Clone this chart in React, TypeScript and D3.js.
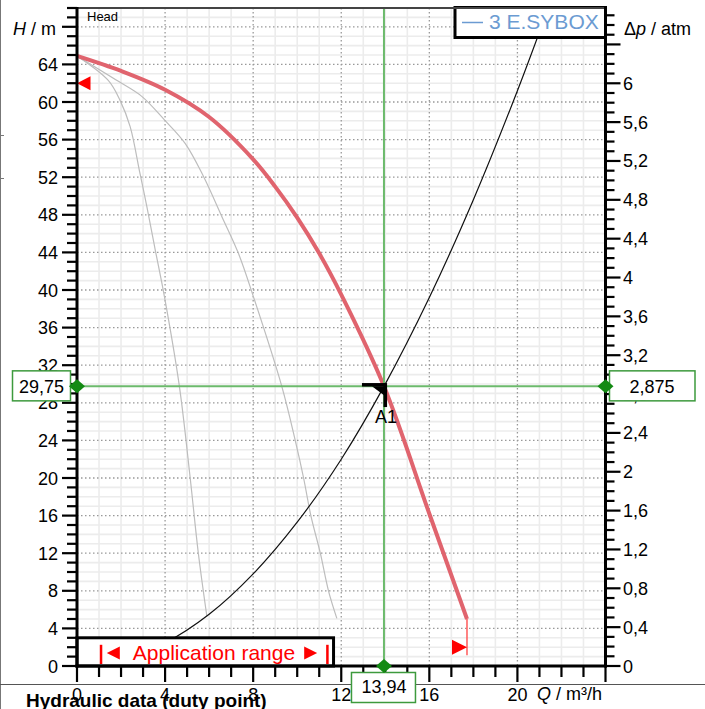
import * as d3 from "d3";

// Pump curve (red): [Q m³/h, H m]
const pumpCurve: [number, number][] = [
  [0, 64.9], [2, 63.3], [4, 61.3], [6, 58.4], [8, 53.9], [9, 51.0], [10, 47.7],
  [11, 43.9], [12, 39.5], [13.94, 29.75], [16, 16.2], [17.71, 5.0],
];

// Reduced-speed curves (grey)
const lowCurve1: [number, number][] = [
  [0, 64.9], [1.42, 62.3], [1.95, 60.2], [2.41, 57.4], [2.86, 52.4], [3.17, 48.9],
  [3.55, 44.3], [3.97, 39.3], [4.65, 29.75], [5.14, 20.0], [5.51, 12.0], [5.9, 5.25],
];
const lowCurve2: [number, number][] = [
  [0, 64.9], [1.88, 62.2], [2.94, 60.6], [3.97, 58.1], [4.91, 55.6], [5.74, 52.1],
  [6.58, 47.8], [7.33, 43.9], [8.01, 39.3], [9.3, 29.75], [9.91, 24.0], [10.29, 20.0],
  [10.62, 16.0], [11.05, 12.0], [11.42, 8.0], [11.8, 5.07],
];

// System curve (black)
const systemCurve: [number, number][] = [
  [0, 0], [2, 0.6], [4, 2.45], [6, 5.5], [8, 9.8], [10, 15.3], [12, 22.0],
  [13.94, 29.75], [16, 39.2], [18, 49.6], [20, 61.2], [21.4, 70],
];

// Duty point
const dutyQ = 13.94;
const dutyH = 29.75;
const dutyLabels = { q: "13,94", h: "29,75", p: "2,875" };

// Limits / markers
const curveEnd = { q: 17.71, h: 5.0, hLow: 1.15 };
const maxHeadMark = 62;
const endMark = { q: 17.71, h: 2 };
const appRange = { from: 1.08, to: 11.36, boxEnd: 11.65, boxTop: 3 };

const xLabels = [0, 4, 8, 12, 16, 20];
const hLabels = [0, 4, 8, 12, 16, 20, 24, 28, 32, 36, 40, 44, 48, 52, 56, 60, 64];
const pLabels = [0, 0.4, 0.8, 1.2, 1.6, 2, 2.4, 2.8, 3.2, 3.6, 4, 4.4, 4.8, 5.2, 5.6, 6];

const FONT = "'Liberation Sans', Arial, sans-serif";
const M_PER_ATM = 10.332;

const App = () => {
  const x = d3.scaleLinear().domain([0, 24]).range([77, 605.5]);
  const y = d3.scaleLinear().domain([0, 70]).range([666, 8]);
  const yP = d3.scaleLinear().domain([0, 70 / M_PER_ATM]).range([666, 8]);

  const line = d3.line<[number, number]>()
    .x(d => x(d[0]))
    .y(d => y(d[1]))
    .curve(d3.curveCatmullRom.alpha(0.5));

  const left = x(0), right = x(24), top = y(70), bottom = y(0);
  const fmt = (v: number) => String(+v.toFixed(1)).replace(".", ",");

  const qMinor = d3.range(0, 25);
  const hMinor = d3.range(0, 71);
  const pMinor = d3.range(0, 68).map(i => i / 10);

  const dx = x(dutyQ), dy = y(dutyH);
  const diamond = (cx: number, cy: number) =>
    `M${cx},${cy - 7}L${cx + 8},${cy}L${cx},${cy + 7}L${cx - 8},${cy}Z`;

  const aY = y(appRange.boxTop);
  const aMid = (aY + bottom) / 2 + 1;

  return (
    <svg width={705} height={709} style={{ position: "absolute", left: 0, top: 0, background: "#fff" }}
      fontFamily={FONT}>
      <defs>
        <clipPath id="plot">
          <rect x={left} y={top} width={right - left} height={bottom - top} />
        </clipPath>
      </defs>
      <rect width={705} height={709} fill="#fff" />

      {/* page decorations */}
      <line x1={0.5} x2={0.5} y1={0} y2={709} stroke="#777" />
      <line x1={0} x2={4} y1={135.5} y2={135.5} stroke="#777" />
      <line x1={0} x2={4} y1={178.5} y2={178.5} stroke="#777" />
      <line x1={0} x2={705} y1={684.5} y2={684.5} stroke="#555" />

      {/* minor grid */}
      {qMinor.filter(v => v % 4 !== 0).map(v => (
        <line key={"qm" + v} x1={x(v)} x2={x(v)} y1={top} y2={bottom} stroke="#ececec" strokeWidth={1.6} />
      ))}
      {hMinor.filter(v => v % 4 !== 0).map(v => (
        <line key={"hm" + v} x1={left} x2={right} y1={y(v)} y2={y(v)} stroke="#ececec" strokeWidth={1.6} />
      ))}
      {/* major dotted grid */}
      {qMinor.filter(v => v % 4 === 0 && v > 0 && v < 24).map(v => (
        <line key={"qM" + v} x1={x(v)} x2={x(v)} y1={top} y2={bottom} stroke="#999" strokeWidth={1.3} strokeDasharray="1.5,2.5" />
      ))}
      {hMinor.filter(v => v % 4 === 0 && v > 0).map(v => (
        <line key={"hM" + v} x1={left} x2={right} y1={y(v)} y2={y(v)} stroke="#999" strokeWidth={1.3} strokeDasharray="1.5,2.5" />
      ))}

      {/* curves */}
      <g clipPath="url(#plot)" fill="none">
        <path d={line(lowCurve1)!} stroke="#bdbdbd" strokeWidth={1.2} />
        <path d={line(lowCurve2)!} stroke="#bdbdbd" strokeWidth={1.2} />
        <path d={line(systemCurve)!} stroke="#111" strokeWidth={1.2} />
        <path d={line(pumpCurve)!} stroke="#e0646e" strokeWidth={4} />
        <line x1={x(curveEnd.q)} x2={x(curveEnd.q)} y1={y(curveEnd.h)} y2={y(curveEnd.hLow)} stroke="#ff5a5a" strokeWidth={1.5} />
      </g>

      {/* duty point cross */}
      <line x1={dx} x2={dx} y1={top} y2={bottom} stroke="#6cba6c" strokeWidth={2} />
      <line x1={left} x2={right} y1={dy} y2={dy} stroke="#6cba6c" strokeWidth={2} />

      {/* A1 marker */}
      <g fill="#000">
        <rect x={dx - 22} y={dy - 3.3} width={24} height={3.5} />
        <rect x={dx - 0.5} y={dy - 3.3} width={3.6} height={24} />
        <path d={`M${dx - 12},${dy}L${dx},${dy}L${dx},${dy + 9}Z`} />
      </g>
      <text x={dx + 2} y={dy + 37} fontSize={18} textAnchor="middle">A1</text>

      {/* markers */}
      <path d={`M${left},${y(maxHeadMark)}L${left + 13.5},${y(maxHeadMark) - 7}L${left + 13.5},${y(maxHeadMark) + 7}Z`} fill="#ff0000" />
      <path d={`M${x(endMark.q)},${y(endMark.h)}L${x(endMark.q) - 15},${y(endMark.h) - 7.5}L${x(endMark.q) - 15},${y(endMark.h) + 7.5}Z`} fill="#ff0000" />

      {/* application range box */}
      <rect x={left} y={aY} width={x(appRange.boxEnd) - left} height={bottom - aY} fill="#fff" stroke="#000" strokeWidth={3} />
      <g fill="#ff0000">
        <rect x={x(appRange.from) - 1} y={aY + 7} width={2.5} height={bottom - aY - 9} />
        <rect x={x(appRange.to) - 1} y={aY + 7} width={2.5} height={bottom - aY - 9} />
        <path d={`M${x(appRange.from) + 6},${aMid}L${x(appRange.from) + 19},${aMid - 6.5}L${x(appRange.from) + 19},${aMid + 6.5}Z`} />
        <path d={`M${x(appRange.to) - 10},${aMid}L${x(appRange.to) - 23},${aMid - 6.5}L${x(appRange.to) - 23},${aMid + 6.5}Z`} />
        <text x={(x(appRange.from) + x(appRange.to)) / 2} y={aMid + 7.5} fontSize={21} textAnchor="middle">Application range</text>
      </g>

      {/* legend */}
      <rect x={455} y={top - 0.5} width={right - 455} height={30} fill="#fff" stroke="#000" strokeWidth={3} />
      <line x1={462} x2={483} y1={22.5} y2={22.5} stroke="#6b9bd2" strokeWidth={1.5} />
      <text x={489} y={29} fontSize={21} fill="#6b9bd2">3 E.SYBOX</text>

      {/* frame top */}
      <line x1={left} x2={right} y1={top} y2={top} stroke="#444" strokeWidth={2} />

      {/* left axis */}
      <line x1={left} x2={left} y1={top - 1} y2={bottom + 1.5} stroke="#000" strokeWidth={3} />
      {hMinor.map(v => (
        <line key={"lt" + v} x1={v % 4 === 0 ? left - 15 : left - 10} x2={left} y1={y(v)} y2={y(v)} stroke="#000" strokeWidth={2.2} />
      ))}
      {hLabels.map(v => (
        <text key={"ll" + v} x={58} y={y(v) + 6.5} fontSize={18} textAnchor="end">{v}</text>
      ))}
      <text x={13} y={35} fontSize={18}><tspan fontStyle="italic">H</tspan> / m</text>
      <text x={87} y={21} fontSize={13}>Head</text>

      {/* right axis */}
      <line x1={right} x2={right} y1={top - 1} y2={bottom + 1.5} stroke="#000" strokeWidth={3} />
      {pMinor.map(v => (
        <line key={"rt" + v} x1={right} x2={Math.round(v * 10) % 4 === 0 ? right + 15 : right + 9}
          y1={yP(v)} y2={yP(v)} stroke="#000" strokeWidth={2.2} />
      ))}
      {pLabels.map(v => (
        <text key={"rl" + v} x={623} y={yP(v) + 6.5} fontSize={18}>{fmt(v)}</text>
      ))}
      <text x={624} y={35} fontSize={18}>Δ<tspan fontStyle="italic">p</tspan> / atm</text>

      {/* bottom axis */}
      <line x1={left - 1.5} x2={right + 1.5} y1={bottom} y2={bottom} stroke="#000" strokeWidth={3} />
      {qMinor.map(v => (
        <line key={"bt" + v} x1={x(v)} x2={x(v)} y1={bottom} y2={v % 4 === 0 ? bottom + 16 : bottom + 11} stroke="#000" strokeWidth={2.2} />
      ))}
      {xLabels.map(v => (
        <text key={"bl" + v} x={x(v)} y={701} fontSize={18} textAnchor="middle">{v}</text>
      ))}
      <text x={537} y={700} fontSize={18}><tspan fontStyle="italic">Q</tspan> / m³/h</text>

      {/* duty point value boxes */}
      <rect x={12.5} y={dy - 15.5} width={58} height={30} fill="#fff" stroke="#3d9a3d" strokeWidth={1.5} />
      <text x={41.5} y={dy + 6.5} fontSize={18} textAnchor="middle">{dutyLabels.h}</text>
      <rect x={609.5} y={dy - 15.5} width={85.5} height={30} fill="#fff" stroke="#3d9a3d" strokeWidth={1.5} />
      <text x={652} y={dy + 6.5} fontSize={18} textAnchor="middle">{dutyLabels.p}</text>
      <rect x={dx - 32.5} y={672.5} width={64} height={30} fill="#fff" stroke="#3d9a3d" strokeWidth={1.5} />
      <text x={dx} y={693} fontSize={18} textAnchor="middle">{dutyLabels.q}</text>

      <path d={diamond(left, dy)} fill="#138a13" />
      <path d={diamond(right, dy)} fill="#138a13" />
      <path d={diamond(dx, bottom)} fill="#138a13" />

      <text x={26} y={707} fontSize={19} fontWeight="bold">Hydraulic data (duty point)</text>
    </svg>
  );
};

export default App;
